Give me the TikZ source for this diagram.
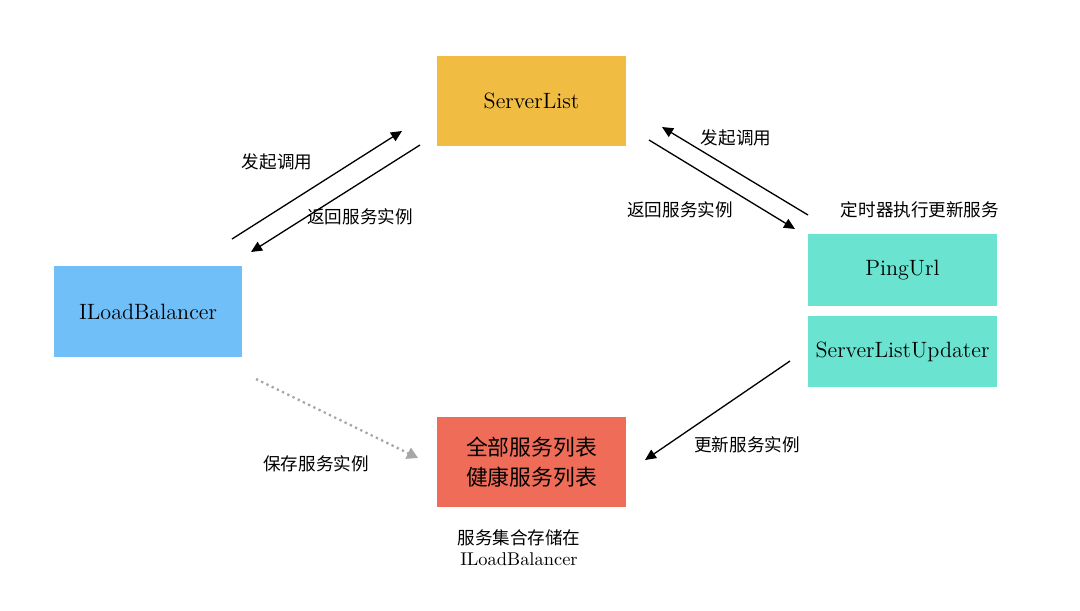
\documentclass[tikz,border=0pt]{standalone}
\usepackage{fontspec}
\newfontfamily\cjk{Noto Sans CJK SC}
\usetikzlibrary{arrows.meta}
\definecolor{srvyellow}{HTML}{F0BC42}
\definecolor{lbblue}{HTML}{70BFF9}
\definecolor{pingcyan}{HTML}{6BE3D1}
\definecolor{listred}{HTML}{EE6C58}
\tikzset{
  box/.style={minimum width=3.78cm, inner sep=0pt, font=\fontsize{12.6}{14}\selectfont},
  lbl/.style={font=\cjk\fontsize{10}{12}\selectfont},
  call/.style={-{Triangle[length=2.2mm,width=2mm]}, line width=0.75pt}
}
\begin{document}
\begin{tikzpicture}
\useasboundingbox (0,0) rectangle (21.6,-12.2);
% boxes
\node[box, fill=srvyellow, minimum height=1.8cm] (list) at (10.63,-2.02) {ServerList};
\node[box, fill=lbblue, minimum width=3.76cm, minimum height=1.82cm] (lb) at (2.96,-6.23) {ILoadBalancer};
\node[box, fill=pingcyan, minimum height=1.44cm] (ping) at (18.05,-5.40) {PingUrl};
\node[box, fill=pingcyan, minimum height=1.42cm] (updater) at (18.05,-7.03) {ServerListUpdater};
\node[box, fill=listred, minimum height=1.8cm, font=\cjk\fontsize{12.4}{17}\selectfont, align=center] (all) at (10.63,-9.24) {全部服务列表\\健康服务列表};
% arrow ends
\coordinate (a1) at (4.64,-4.78);
\coordinate (a2) at (8.04,-2.62);
\coordinate (b1) at (8.40,-2.90);
\coordinate (b2) at (5.02,-5.04);
\coordinate (c1) at (16.16,-4.30);
\coordinate (c2) at (13.24,-2.54);
\coordinate (d1) at (12.98,-2.80);
\coordinate (d2) at (15.90,-4.58);
\coordinate (e1) at (15.80,-7.22);
\coordinate (e2) at (12.90,-9.20);
\coordinate (f1) at (5.12,-7.58);
\coordinate (f2) at (8.36,-9.16);
\draw[call] (a1) -- (a2);
\draw[call] (b1) -- (b2);
\draw[call] (c1) -- (c2);
\draw[call] (d1) -- (d2);
\draw[call] (e1) -- (e2);
\draw[gray!70, line width=1.3pt, dotted, -{Triangle[length=2.2mm,width=2.4mm]}] (f1) -- (f2);
% labels
\node[lbl] (callL) at (5.54,-3.24) {发起调用};
\node[lbl] (backL) at (7.20,-4.34) {返回服务实例};
\node[lbl] (callR) at (14.72,-2.76) {发起调用};
\node[lbl] (backR) at (13.60,-4.20) {返回服务实例};
\node[lbl] (timer) at (18.40,-4.20) {定时器执行更新服务};
\node[lbl] (update) at (14.94,-8.90) {更新服务实例};
\node[lbl] (save) at (6.32,-9.28) {保存服务实例};
\node[lbl, align=center] (store) at (10.38,-10.95) {服务集合存储在\\{\rmfamily\fontsize{10.5}{12}\selectfont ILoadBalancer}};
\end{tikzpicture}
\end{document}
